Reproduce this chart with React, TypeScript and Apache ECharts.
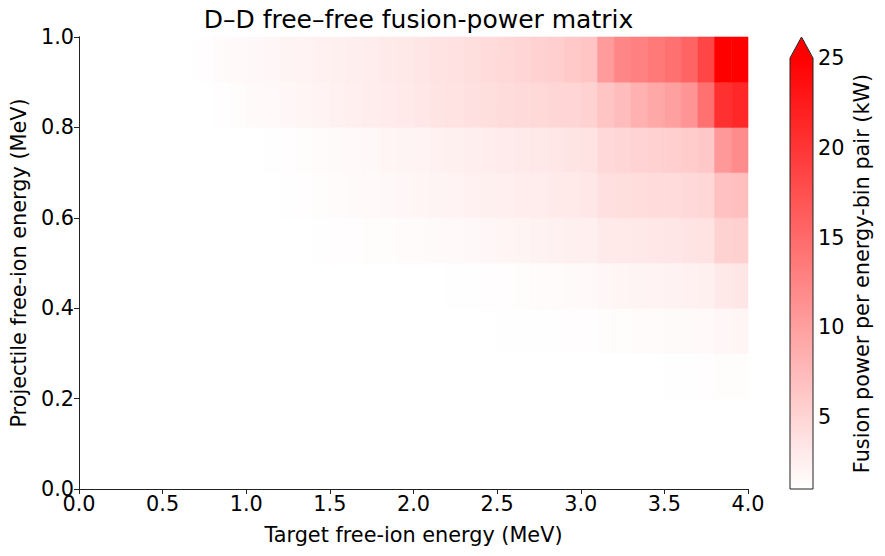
import React, { useEffect, useRef } from 'react';
import * as echarts from 'echarts';

// bin widths (MeV)
const TARGET_BIN = 0.1;
const PROJ_BIN = 0.1;

// colour scale limits (kW), values above V_MAX shown as the "extend" colour
const V_MIN = 1;
const V_MAX = 25;

const X_TICKS = 0.5;
const Y_TICKS = 0.2;
const CBAR_TICKS = [5, 10, 15, 20, 25];

// fusion power per energy-bin pair (kW), one array per projectile bin,
// 40 target bins from 0.0 to 4.0 MeV
const powerP02 = [
  0, 0, 0, 0, 0, 0, 0, 0, 0, 0, 0, 0, 0, 0, 0, 0, 0, 0, 0, 0,
  0, 0, 0, 0, 0, 0, 0, 0, 0, 0, 0, 0, 0, 0, 0, 1.05, 1.1, 1.15, 1.25, 1.3,
];
const powerP03 = [
  0, 0, 0, 0, 0, 0, 0, 0, 0, 0, 0, 0, 0, 0, 0, 0, 0, 0, 0, 0,
  0, 0, 0, 0, 0, 1.05, 1.05, 1.1, 1.1, 1.15, 1.2, 1.25, 1.3, 1.35, 1.4, 1.45, 1.5, 1.55, 1.8, 1.9,
];
const powerP04 = [
  0, 0, 0, 0, 0, 0, 0, 0, 0, 0, 0, 0, 0, 0, 0, 0, 0, 0, 0, 0,
  0, 0, 1.05, 1.1, 1.15, 1.2, 1.3, 1.35, 1.4, 1.5, 1.6, 1.8, 1.9, 2.0, 2.1, 2.2, 2.3, 2.4, 3.2, 3.4,
];
const powerP05 = [
  0, 0, 0, 0, 0, 0, 0, 0, 0, 0, 0, 0, 0, 0, 1.1, 1.15, 1.2, 1.25, 1.3, 1.35,
  1.4, 1.5, 1.6, 1.7, 1.8, 1.9, 2.0, 2.2, 2.3, 2.4, 2.5, 3.0, 3.1, 3.2, 3.3, 3.4, 3.5, 3.6, 5.2, 5.4,
];
const powerP06 = [
  0, 0, 0, 0, 0, 0, 0, 0, 0, 0, 0, 0, 1.1, 1.2, 1.3, 1.4, 1.5, 1.6, 1.7, 1.8,
  1.9, 2.0, 2.1, 2.3, 2.4, 2.5, 2.7, 2.8, 3.0, 3.1, 3.3, 4.0, 4.1, 4.2, 4.3, 4.4, 4.6, 4.8, 6.8, 7.0,
];
const powerP07 = [
  0, 0, 0, 0, 0, 0, 0, 0, 0, 0, 0, 1.1, 1.2, 1.3, 1.4, 1.5, 1.6, 1.7, 1.9, 2.0,
  2.1, 2.3, 2.4, 2.6, 2.7, 2.9, 3.0, 3.2, 3.3, 3.5, 3.6, 4.6, 4.9, 5.1, 5.3, 5.6, 5.9, 6.2, 10.6, 11.8,
];
const powerP08 = [
  0, 0, 0, 0, 0, 0, 0, 0, 1.2, 1.3, 1.5, 1.6, 1.8, 1.9, 2.1, 2.3, 2.5, 2.7, 2.9, 3.1,
  3.3, 3.5, 3.7, 3.9, 4.1, 4.3, 4.5, 4.7, 4.9, 5.0, 5.2, 6.5, 7.3, 8.4, 9.2, 9.9, 11.1, 14.4, 20.5, 21.3,
];
const powerP09 = [
  0, 0, 0, 0, 0, 0, 0, 1.2, 1.4, 1.6, 1.7, 1.8, 2.0, 2.1, 2.3, 2.4, 2.6, 2.8, 3.0, 3.2,
  3.4, 3.6, 3.8, 4.1, 4.4, 4.7, 5.0, 5.3, 5.6, 6.1, 6.5, 10.4, 12.4, 13.0, 13.6, 14.4, 15.6, 18.5, 27.0, 31.0,
];

// projectile bin index -> row of values
const ROWS: [number, number[]][] = [
  [2, powerP02],
  [3, powerP03],
  [4, powerP04],
  [5, powerP05],
  [6, powerP06],
  [7, powerP07],
  [8, powerP08],
  [9, powerP09],
];

const FONT = 'DejaVu Sans';
const FS = 20.8;

// layout (px)
const PLOT = { left: 79, top: 37, width: 669, height: 452 };
const CBAR = { left: 790, top: 58, width: 23, height: 431, tip: 37 };

const App: React.FC = () => {
  const chartRef = useRef<HTMLDivElement>(null);

  useEffect(() => {
    if (!chartRef.current) return;
    const chart = echarts.init(chartRef.current, undefined, { renderer: 'svg' });

    const cells: number[][] = [];
    ROWS.forEach(([j, vals]) => {
      vals.forEach((v, i) => {
        if (v > 0) cells.push([i * TARGET_BIN, j * PROJ_BIN, v]);
      });
    });

    const black = '#000';
    const spine = '#222';
    const cbRight = CBAR.left + CBAR.width;
    const cbBottom = CBAR.top + CBAR.height;

    const option: any = {
      animation: false,
      backgroundColor: '#fff',
      textStyle: { fontFamily: FONT, color: black },
      title: {
        text: 'D\u2013D free\u2013free fusion-power matrix',
        left: PLOT.left + PLOT.width / 2,
        textAlign: 'center',
        top: 2,
        textStyle: { fontFamily: FONT, fontSize: 25, fontWeight: 'normal', color: black },
      },
      grid: [
        { ...PLOT },
        { left: CBAR.left, top: CBAR.top, width: CBAR.width, height: CBAR.height },
      ],
      visualMap: {
        type: 'continuous',
        show: false,
        min: V_MIN,
        max: V_MAX,
        dimension: 2,
        seriesIndex: 0,
        inRange: { color: ['#ffffff', '#ff0000'] },
      },
      xAxis: [
        {
          type: 'value',
          gridIndex: 0,
          min: 0,
          max: 4,
          interval: X_TICKS,
          z: 5,
          axisLine: { lineStyle: { color: spine, width: 1 } },
          axisTick: { length: 5, lineStyle: { color: spine } },
          axisLabel: { fontSize: FS, color: black, margin: 4, formatter: (v: number) => v.toFixed(1) },
          splitLine: { show: false },
          name: 'Target free-ion energy (MeV)',
          nameLocation: 'middle',
          nameGap: 35,
          nameTextStyle: { fontSize: FS, color: black },
        },
        {
          type: 'value',
          gridIndex: 0,
          position: 'top',
          min: 0,
          max: 4,
          z: 5,
          axisLine: { lineStyle: { color: spine, width: 1 } },
          axisTick: { show: false },
          axisLabel: { show: false },
          splitLine: { show: false },
        },
        { type: 'value', gridIndex: 1, min: 0, max: 1, show: false },
      ],
      yAxis: [
        {
          type: 'value',
          gridIndex: 0,
          min: 0,
          max: 1,
          interval: Y_TICKS,
          z: 5,
          axisLine: { lineStyle: { color: spine, width: 1 } },
          axisTick: { length: 5, lineStyle: { color: spine } },
          axisLabel: { fontSize: FS, color: black, margin: 5, formatter: (v: number) => v.toFixed(1) },
          splitLine: { show: false },
          name: 'Projectile free-ion energy (MeV)',
          nameLocation: 'middle',
          nameGap: 50,
          nameRotate: 90,
          nameTextStyle: { fontSize: FS, color: black },
        },
        {
          type: 'value',
          gridIndex: 0,
          position: 'right',
          min: 0,
          max: 1,
          z: 5,
          axisLine: { lineStyle: { color: spine, width: 1 } },
          axisTick: { show: false },
          axisLabel: { show: false },
          splitLine: { show: false },
        },
        {
          type: 'value',
          gridIndex: 1,
          position: 'right',
          min: V_MIN,
          max: V_MAX,
          axisLine: { show: false },
          axisTick: { show: true, length: 5, customValues: CBAR_TICKS, lineStyle: { color: spine } },
          axisLabel: { fontSize: FS, color: black, margin: 5, customValues: CBAR_TICKS },
          splitLine: { show: false },
          name: 'Fusion power per energy-bin pair (kW)',
          nameLocation: 'middle',
          nameGap: 38,
          nameRotate: 90,
          nameTextStyle: { fontSize: FS, color: black },
        },
      ],
      series: [
        {
          type: 'custom',
          xAxisIndex: 0,
          yAxisIndex: 0,
          dimensions: ['target', 'projectile', 'power'],
          encode: { x: 0, y: 1 },
          data: cells,
          renderItem: (_params: any, api: any) => {
            const x0 = api.value(0);
            const y0 = api.value(1);
            const p0 = api.coord([x0, y0 + PROJ_BIN]);
            const p1 = api.coord([x0 + TARGET_BIN, y0]);
            const color = api.visual('color');
            return {
              type: 'rect',
              shape: { x: p0[0], y: p0[1], width: p1[0] - p0[0], height: p1[1] - p0[1] },
              style: { fill: color, stroke: color, lineWidth: 0.6 },
            };
          },
        },
      ],
      graphic: [
        {
          type: 'rect',
          shape: { x: CBAR.left, y: CBAR.top, width: CBAR.width, height: CBAR.height },
          style: {
            fill: new echarts.graphic.LinearGradient(0, 0, 0, 1, [
              { offset: 0, color: '#ff0000' },
              { offset: 1, color: '#ffffff' },
            ]),
          },
          z: 1,
        },
        {
          type: 'polygon',
          shape: {
            points: [
              [CBAR.left, CBAR.top + 0.5],
              [CBAR.left + CBAR.width / 2, CBAR.tip],
              [cbRight, CBAR.top + 0.5],
            ],
          },
          style: { fill: '#ff0000' },
          z: 1,
        },
        {
          type: 'polyline',
          shape: {
            points: [
              [CBAR.left, cbBottom],
              [CBAR.left, CBAR.top],
              [CBAR.left + CBAR.width / 2, CBAR.tip],
              [cbRight, CBAR.top],
              [cbRight, cbBottom],
              [CBAR.left, cbBottom],
            ],
          },
          style: { fill: 'none', stroke: spine, lineWidth: 1 },
          z: 2,
        },
      ],
    };

    chart.setOption(option);
    return () => {
      chart.dispose();
    };
  }, []);

  return (
    <div style={{ position: 'fixed', left: 0, top: 0, width: 885, height: 556, background: '#fff' }}>
      <div ref={chartRef} style={{ width: 885, height: 556 }} />
    </div>
  );
};

export default App;
